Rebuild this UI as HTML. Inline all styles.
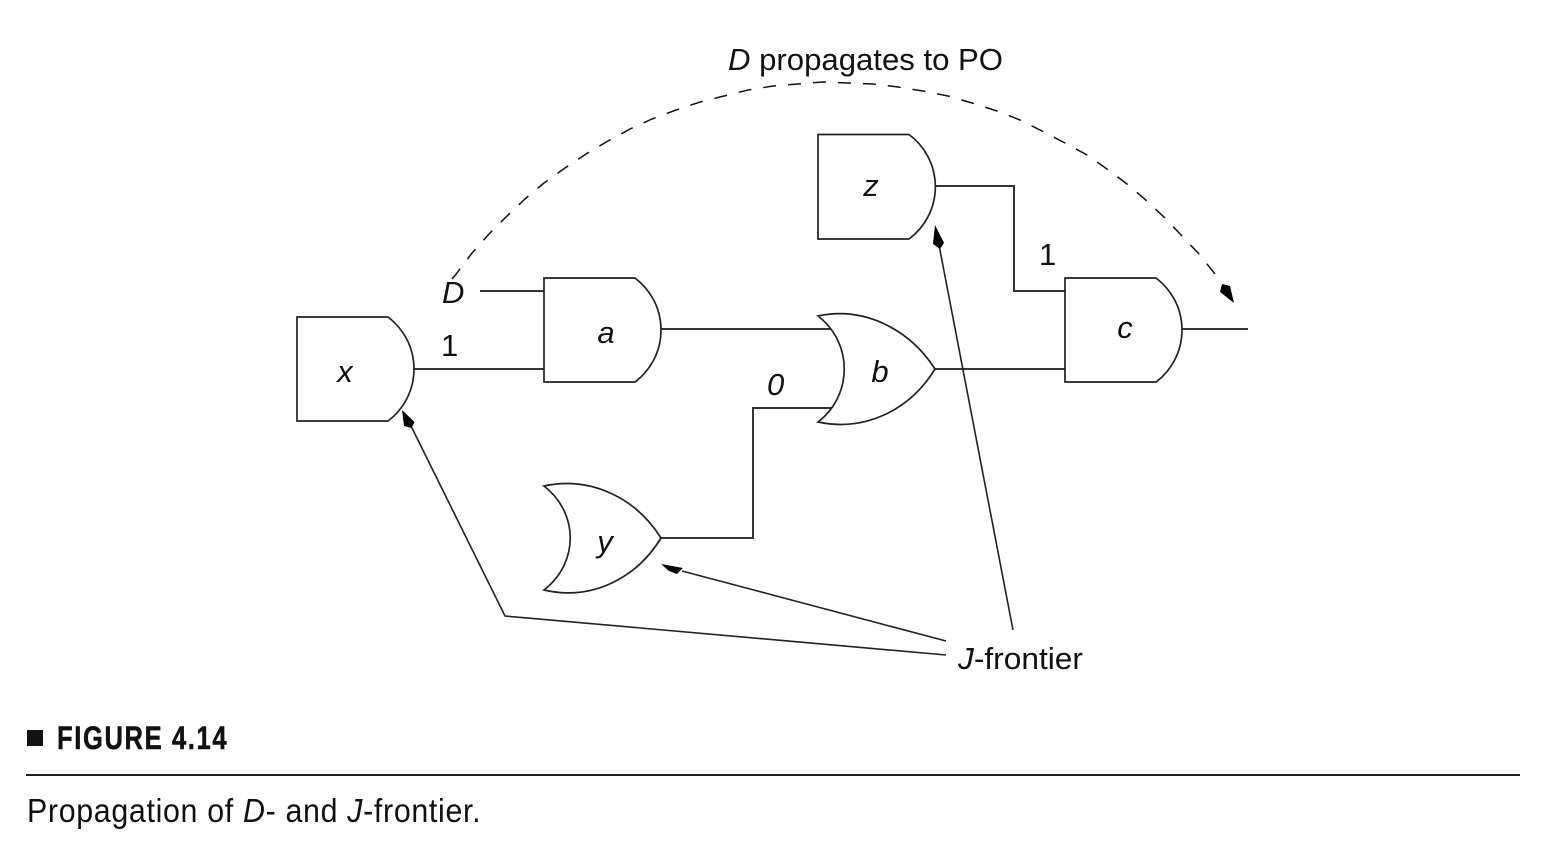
<!DOCTYPE html>
<html>
<head>
<meta charset="utf-8">
<style>
html,body{margin:0;padding:0;background:#fff;width:1551px;height:847px;overflow:hidden}
svg{display:block}
text{font-family:"Liberation Sans",sans-serif;fill:#111}
.i{font-style:italic}
.w{fill:none;stroke:#333;stroke-width:2}
.g{fill:#fff;stroke:#222;stroke-width:1.7}
.t{fill:none;stroke:#222;stroke-width:1.6}
.a{fill:#000;stroke:none}
</style>
</head>
<body>
<svg width="1551" height="847" viewBox="0 0 1551 847" xmlns="http://www.w3.org/2000/svg">
<rect width="1551" height="847" fill="#fff"/>

<!-- wires -->
<path class="w" d="M480,291H544"/>
<path class="w" d="M414,369H544"/>
<path class="w" d="M661,329H836"/>
<path class="w" d="M661,538H753V408H832"/>
<path class="w" d="M935,369H1065"/>
<path class="w" d="M935,186H1014V291H1065"/>
<path class="w" d="M1182,329H1248"/>

<!-- gates -->
<path class="g" d="M297,317H388A65,65 0 0 1 388,421H297Z"/>
<path class="g" d="M544,278H635A65,65 0 0 1 635,382H544Z"/>
<path class="g" d="M818,134.500H909A65,65 0 0 1 909,239H818Z"/>
<path class="g" d="M1065,278H1156A65,65 0 0 1 1156,382H1065Z"/>
<path class="g" d="M818,316C865,306 910,330 935,369C910,410 865,432 818,422C853,395 853,343 818,316Z"/>
<path class="g" d="M544,486C591,476 636,498 661,538C636,579 591,601 544,590C579,563 579,513 544,486Z"/>

<!-- dashed arc -->
<polyline points="452,279 457,273 472,253 489,234 507,216 525,199 544,183 565,168 586,154 608,141 630,129 652,119 676,110 700,102 724,96 748,90 773,86 798,84 823,82 848,83 873,84 898,87 923,91 948,96 972,103 997,111 1020,120 1042,131 1065,143 1087,155 1107,169 1127,184 1147,201 1165,218 1182,236 1199,254 1215,274" fill="none" stroke="#111" stroke-width="1.500" stroke-linejoin="round" stroke-dasharray="13,12"/>
<polygon class="a" points="1234,303 1220,292 1222,284 1230,286"/>

<!-- J-frontier pointers -->
<path class="t" d="M946,655L505,616L411,426"/>
<polygon class="a" points="402,410 414.500,422 411.500,428 404,426"/>
<path class="t" d="M946,641L682,571"/>
<polygon class="a" points="661,564 683,568 677,574 669,571"/>
<path class="t" d="M1013,630L939,245"/>
<polygon class="a" points="935,225 944,243 940,249 933,244"/>

<!-- labels -->
<text x="728" y="70" font-size="31" textLength="275" lengthAdjust="spacingAndGlyphs"><tspan class="i">D</tspan> propagates to PO</text>
<text x="442" y="303" font-size="31" class="i">D</text>
<text x="441" y="356" font-size="31">1</text>
<text x="1039" y="265" font-size="31">1</text>
<text x="767" y="395" font-size="31" class="i">0</text>
<text x="345" y="382" font-size="31" class="i" text-anchor="middle">x</text>
<text x="606" y="343" font-size="31" class="i" text-anchor="middle">a</text>
<text x="880" y="382" font-size="31" class="i" text-anchor="middle">b</text>
<text x="605" y="552" font-size="31" class="i" text-anchor="middle">y</text>
<text x="871" y="196" font-size="31" class="i" text-anchor="middle">z</text>
<text x="1125" y="338" font-size="31" class="i" text-anchor="middle">c</text>
<text x="958" y="669" font-size="31" textLength="125" lengthAdjust="spacingAndGlyphs"><tspan class="i">J</tspan>-frontier</text>

<!-- caption -->
<rect x="27" y="730" width="16" height="16" fill="#111"/>
<text transform="translate(57,749) scale(.8,1)" font-size="32" font-weight="bold" stroke="#111" stroke-width=".5" textLength="212" lengthAdjust="spacing">FIGURE 4.14</text>
<rect x="26" y="774" width="1494" height="2" fill="#222"/>
<text transform="translate(27,822) scale(.92,1)" font-size="33" textLength="493" lengthAdjust="spacing">Propagation of <tspan class="i">D</tspan>- and <tspan class="i">J</tspan>-frontier.</text>
</svg>
</body>
</html>
